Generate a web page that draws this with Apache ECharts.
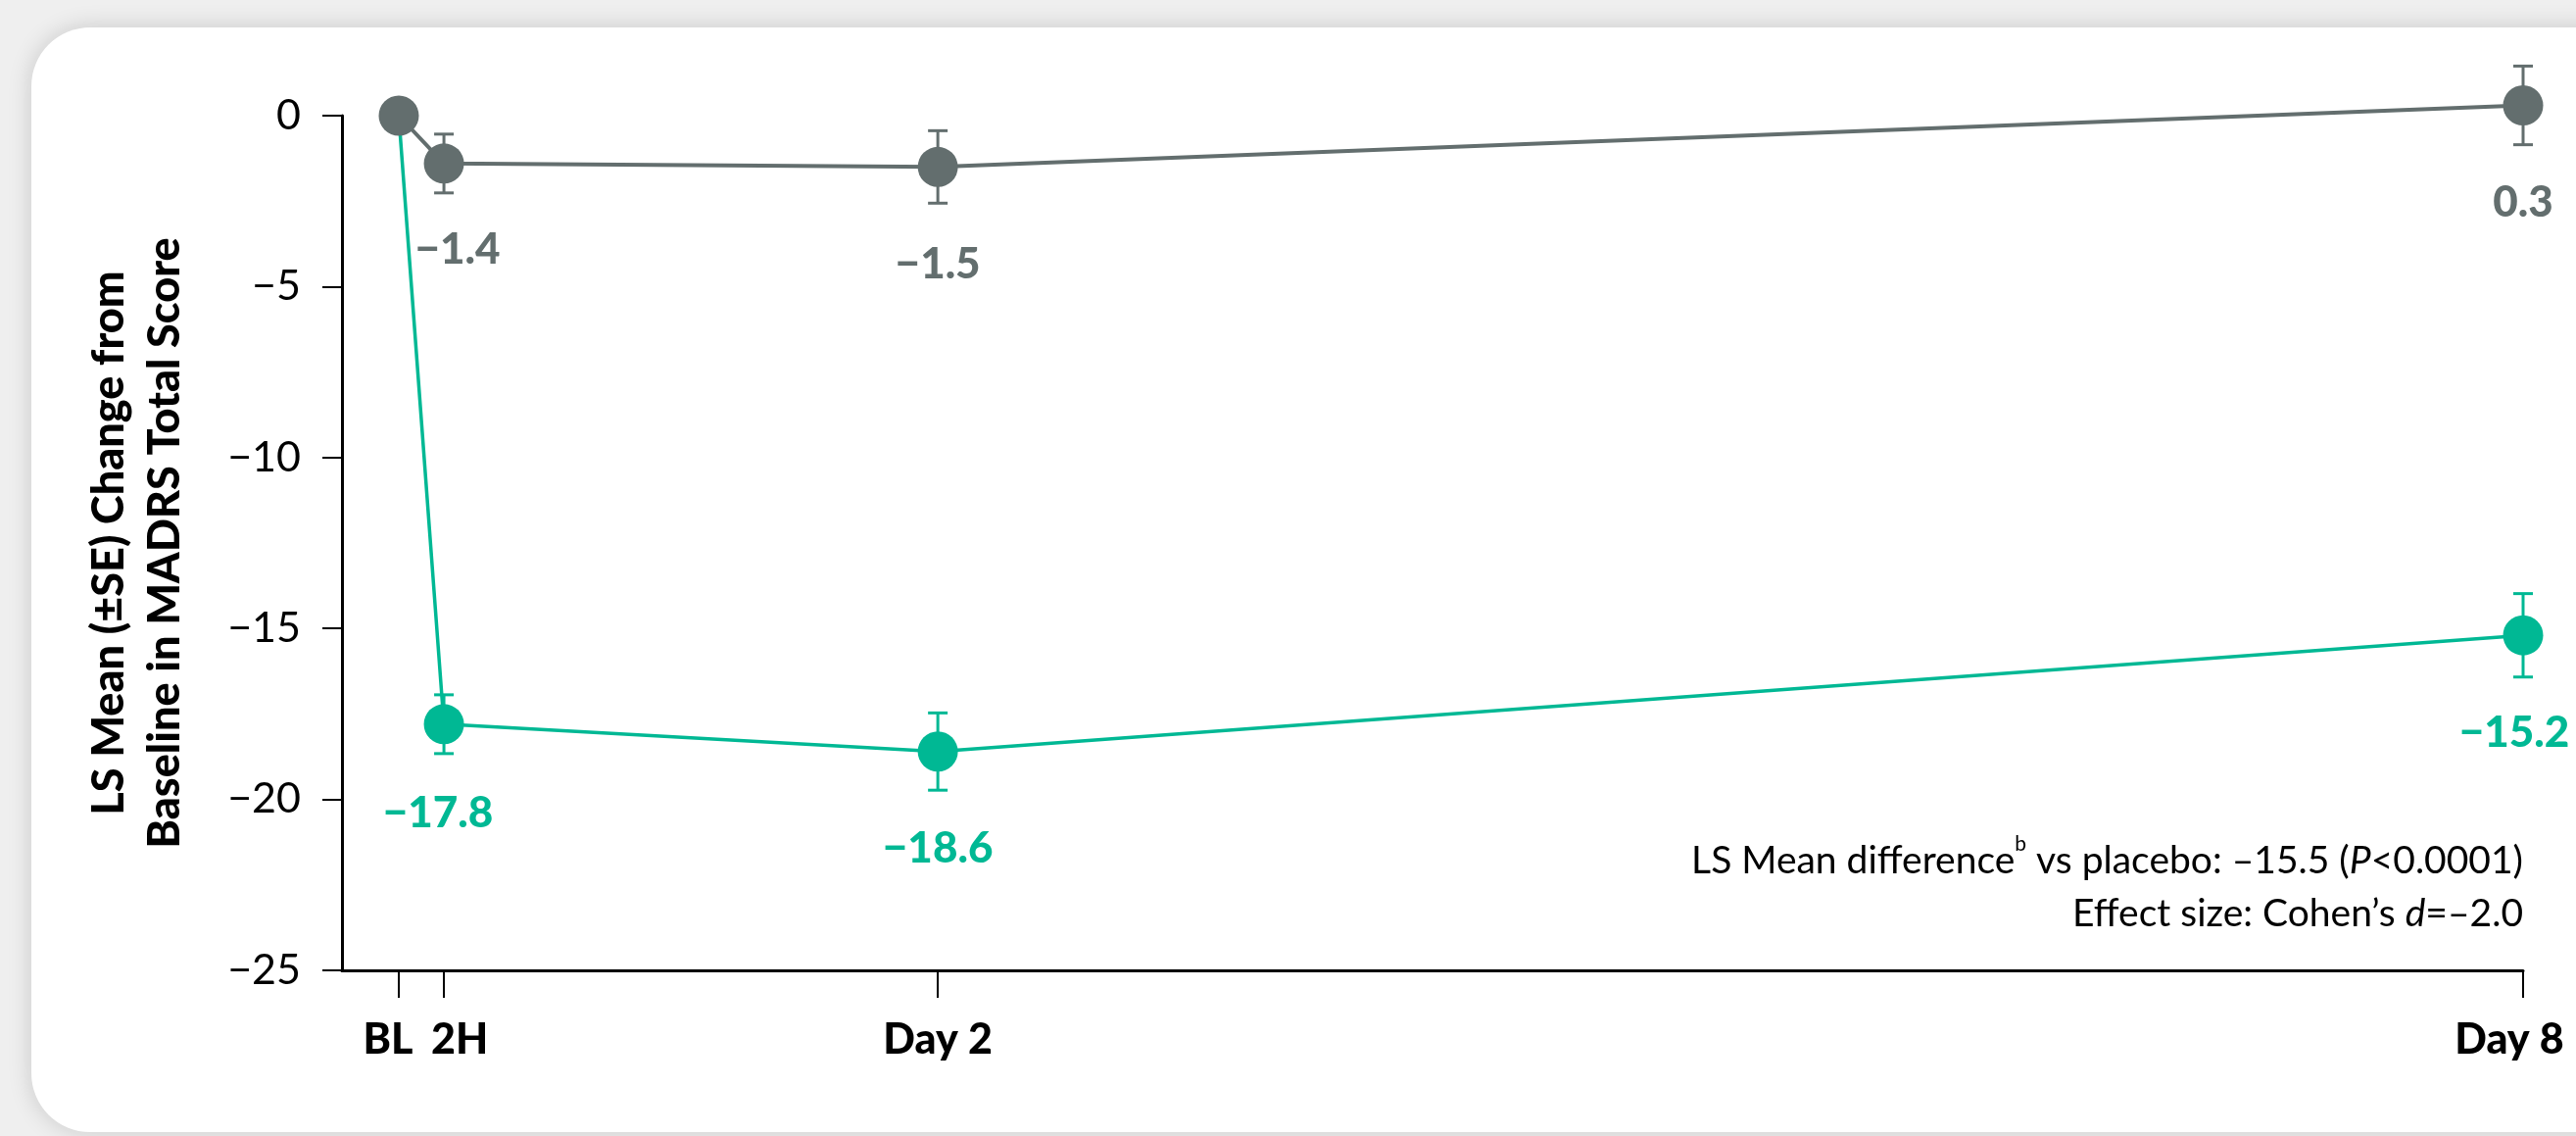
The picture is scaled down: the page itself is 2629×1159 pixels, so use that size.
<!DOCTYPE html>
<html>
<head>
<meta charset="utf-8">
<script src="https://cdn.jsdelivr.net/npm/echarts@6/dist/echarts.min.js"></script>
<style>
  html, body { margin: 0; padding: 0; background: #efefef; }
  #chart { width: 2629px; height: 1159px; }
</style>
</head>
<body>
<div id="chart"></div>
<script>
// time points (x), labels and the two series
const timeLabels = ['BL', '2H', 'Day 2', 'Day 8'];
const timeValues = [0, 0.17, 2.03, 8];
const placeboMean = [0, -1.4, -1.5, 0.3];
const placeboSE = [0, 0.86, 1.06, 1.15];
const drugMean = [0, -17.8, -18.6, -15.2];
const drugSE = [0, 0.86, 1.13, 1.22];

// label nudges (style only)
const placeboLabelShift = [[0, 0], [14, -12], [0, 0], [0, 0]];
const drugLabelShift = [[0, 0], [-6, -9], [0, 0], [-9, 0]];

const GRAY = '#636e6e';
const GREEN = '#00b894';
const FONT = 'Lato';

let chart = echarts.init(document.getElementById('chart'));

function minus(v) {
    return v < 0 ? '\u2212' + Math.abs(v).toFixed(1) : v.toFixed(1);
}

// line series points
function points(means, shifts, hideFirst) {
    return timeValues.map((x, i) => {
        let item = { value: [x, means[i]] };
        if (i === 0) {
            item.label = { show: false };
            if (hideFirst) item.symbol = 'none';
        } else {
            item.label = { offset: shifts[i] };
        }
        return item;
    });
}

// error bars (custom series)
function errorData(means, se) {
    return timeValues.map((x, i) => [x, means[i] - se[i], means[i] + se[i]]).filter((d, i) => se[i] > 0);
}
function errorRender(color) {
    return function (params, api) {
        let x = api.value(0);
        let lo = api.coord([x, api.value(1)]);
        let hi = api.coord([x, api.value(2)]);
        let half = 10;
        let style = { stroke: color, lineWidth: 3 };
        return {
            type: 'group',
            children: [
                { type: 'line', shape: { x1: hi[0], y1: hi[1], x2: lo[0], y2: lo[1] }, style: style },
                { type: 'line', shape: { x1: hi[0] - half, y1: hi[1], x2: hi[0] + half, y2: hi[1] }, style: style },
                { type: 'line', shape: { x1: lo[0] - half, y1: lo[1], x2: lo[0] + half, y2: lo[1] }, style: style }
            ]
        };
    };
}

let option = {
    backgroundColor: '#efefef',
    animation: false,
    graphic: [
        {
            type: 'rect',
            z: -10,
            shape: { x: 32, y: 28, width: 2700, height: 1127, r: 60 },
            style: { fill: '#ffffff', shadowBlur: 24, shadowColor: 'rgba(0,0,0,0.16)' }
        },
        {
            type: 'text',
            right: 54,
            top: 851,
            style: {
                text: '{n|LS Mean difference}{s|b}{n| vs placebo: \u201315.5 (}{i|P}{n|<0.0001)}\n{n|Effect size: Cohen\u2019s }{i|d}{n|=\u20132.0}',
                align: 'right',
                fill: '#000',
                rich: {
                    n: { fontFamily: FONT, fontSize: 39, lineHeight: 54, fill: '#000', align: 'right' },
                    i: { fontFamily: FONT, fontSize: 39, lineHeight: 54, fontStyle: 'italic', fill: '#000', align: 'right' },
                    s: { fontFamily: FONT, fontSize: 21, lineHeight: 54, verticalAlign: 'top', padding: [0, 0, 18, 0], fill: '#000', align: 'right' }
                }
            }
        }
    ],
    grid: { left: 349, right: 54, top: 118, bottom: 169 },
    xAxis: {
        type: 'value',
        min: -0.214,
        max: 8,
        splitLine: { show: false },
        axisLine: { show: true, onZero: false, lineStyle: { color: '#000', width: 3 } },
        axisTick: {
            show: true,
            length: 28,
            customValues: timeValues,
            lineStyle: { color: '#000', width: 2 }
        },
        axisLabel: {
            customValues: timeValues,
            margin: 50,
            formatter: function (v) {
                let i = timeValues.indexOf(v);
                let name = timeLabels[i];
                if (i === 0) return '{l|' + name + '}';
                if (i === 1) return '{r|' + name + '}';
                if (i === 3) return '{e|' + name + '}';
                return '{c|' + name + '}';
            },
            rich: {
                l: { fontFamily: FONT, fontWeight: 900, fontSize: 43, color: '#000', padding: [0, 22, 0, 0] },
                r: { fontFamily: FONT, fontWeight: 900, fontSize: 43, color: '#000', padding: [0, 0, 0, 32] },
                e: { fontFamily: FONT, fontWeight: 900, fontSize: 43, color: '#000', padding: [0, 28, 0, 0] },
                c: { fontFamily: FONT, fontWeight: 900, fontSize: 43, color: '#000' }
            }
        }
    },
    yAxis: {
        type: 'value',
        min: -25,
        max: 0,
        interval: 5,
        name: 'LS Mean (\u00b1SE) Change from\nBaseline in MADRS Total Score',
        nameLocation: 'middle',
        nameRotate: 90,
        nameGap: 152,
        nameTextStyle: { fontFamily: FONT, fontWeight: 900, fontSize: 45, lineHeight: 57, color: '#000' },
        splitLine: { show: false },
        axisLine: { show: true, onZero: false, lineStyle: { color: '#000', width: 3 } },
        axisTick: { show: true, length: 20, lineStyle: { color: '#000', width: 2 } },
        axisLabel: {
            margin: 42,
            fontFamily: FONT,
            fontSize: 43,
            color: '#000',
            formatter: function (v) {
                return v < 0 ? '\u2212' + Math.abs(v) : String(v);
            }
        }
    },
    series: [
        {
            name: 'drug-se',
            type: 'custom',
            clip: false,
            z: 1,
            renderItem: errorRender(GREEN),
            data: errorData(drugMean, drugSE)
        },
        {
            name: 'placebo-se',
            type: 'custom',
            clip: false,
            z: 1,
            renderItem: errorRender(GRAY),
            data: errorData(placeboMean, placeboSE)
        },
        {
            name: 'drug',
            type: 'line',
            clip: false,
            z: 2,
            symbol: 'circle',
            symbolSize: 41,
            lineStyle: { color: GREEN, width: 3.5 },
            itemStyle: { color: GREEN },
            label: {
                show: true,
                position: 'bottom',
                distance: 57,
                fontFamily: FONT,
                fontWeight: 900,
                fontSize: 44,
                color: GREEN,
                formatter: p => minus(p.value[1])
            },
            data: points(drugMean, drugLabelShift, true)
        },
        {
            name: 'placebo',
            type: 'line',
            clip: false,
            z: 3,
            symbol: 'circle',
            symbolSize: 41,
            lineStyle: { color: GRAY, width: 4 },
            itemStyle: { color: GRAY },
            label: {
                show: true,
                position: 'bottom',
                distance: 57,
                fontFamily: FONT,
                fontWeight: 900,
                fontSize: 44,
                color: GRAY,
                formatter: p => minus(p.value[1])
            },
            data: points(placeboMean, placeboLabelShift, false)
        }
    ]
};
chart.setOption(option);
</script>
</body>
</html>
